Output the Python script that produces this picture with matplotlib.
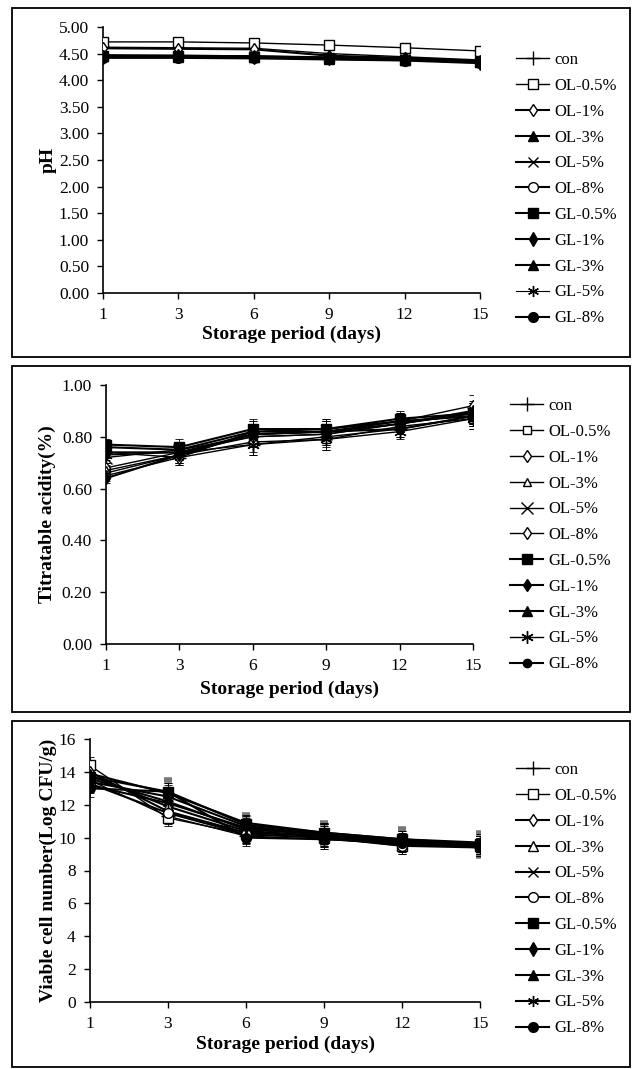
import matplotlib
matplotlib.use('Agg')

import matplotlib.pyplot as plt
from matplotlib.patches import Rectangle
import numpy as np

plt.rcParams['font.family'] = ['Liberation Serif', 'DejaVu Serif']

days = ['1', '3', '6', '9', '12', '15']
groups = ['con', 'OL-0.5%', 'OL-1%', 'OL-3%', 'OL-5%', 'OL-8%',
          'GL-0.5%', 'GL-1%', 'GL-3%', 'GL-5%', 'GL-8%']

# pH
ph = [
    [4.62, 4.61, 4.60, 4.50, 4.44, 4.38],
    [4.72, 4.72, 4.70, 4.66, 4.61, 4.55],
    [4.60, 4.59, 4.58, 4.46, 4.42, 4.36],
    [4.47, 4.46, 4.45, 4.43, 4.40, 4.36],
    [4.46, 4.46, 4.45, 4.42, 4.40, 4.35],
    [4.44, 4.44, 4.43, 4.41, 4.39, 4.34],
    [4.45, 4.45, 4.44, 4.42, 4.38, 4.35],
    [4.44, 4.45, 4.44, 4.41, 4.39, 4.33],
    [4.46, 4.44, 4.43, 4.40, 4.38, 4.34],
    [4.43, 4.44, 4.42, 4.40, 4.37, 4.33],
    [4.42, 4.42, 4.41, 4.39, 4.37, 4.32],
]
ph_err = [0.02, 0.02, 0.02, 0.02, 0.02, 0.02]

# titratable acidity (%)
ta = [
    [0.74, 0.72, 0.77, 0.80, 0.83, 0.88],
    [0.66, 0.73, 0.78, 0.79, 0.84, 0.87],
    [0.68, 0.74, 0.80, 0.81, 0.85, 0.89],
    [0.67, 0.73, 0.81, 0.82, 0.86, 0.88],
    [0.72, 0.75, 0.80, 0.81, 0.85, 0.89],
    [0.65, 0.72, 0.82, 0.82, 0.86, 0.92],
    [0.77, 0.76, 0.83, 0.83, 0.87, 0.89],
    [0.64, 0.73, 0.81, 0.82, 0.85, 0.90],
    [0.76, 0.75, 0.82, 0.83, 0.86, 0.88],
    [0.73, 0.74, 0.77, 0.79, 0.82, 0.87],
    [0.74, 0.74, 0.81, 0.82, 0.83, 0.88],
]
ta_err = [0.02, 0.03, 0.04, 0.04, 0.03, 0.04]

# viable cell number (Log CFU/g)
vc = [
    [13.5, 11.3, 10.1, 9.9, 9.6, 9.4],
    [14.4, 11.2, 10.2, 10.0, 9.5, 9.5],
    [14.0, 11.6, 10.3, 10.1, 9.6, 9.5],
    [13.8, 11.9, 10.4, 10.1, 9.7, 9.5],
    [13.6, 12.2, 10.5, 10.2, 9.7, 9.6],
    [13.3, 11.5, 10.2, 10.0, 9.5, 9.4],
    [13.7, 12.8, 10.8, 10.3, 9.9, 9.6],
    [13.4, 12.5, 10.7, 10.2, 9.8, 9.6],
    [13.9, 12.7, 10.9, 10.3, 9.9, 9.7],
    [13.2, 12.1, 10.6, 10.2, 9.8, 9.6],
    [13.0, 12.8, 10.0, 9.9, 9.7, 9.4],
]
vc_err = [0.5, 0.5, 0.5, 0.6, 0.5, 0.5]
vc_err_gray = [0.6, 0.7, 0.6, 0.6, 0.6, 0.7]

# marker style per group: (marker, filled, size, linewidth)
styles_ph = [('+', True, 10, 1.0), ('s', False, 7, 1.0), ('d', False, 6, 1.5),
             ('^', True, 7, 1.5), ('x', True, 7, 1.5), ('o', False, 7, 1.5),
             ('s', True, 7, 1.5), ('d', True, 7, 1.5), ('^', True, 7, 1.5),
             ((6, 2, 0), True, 8, 0.8), ('o', True, 7, 1.5)]
styles_ta = [('+', True, 10, 1.0), ('s', False, 6, 1.0), ('d', False, 6, 1.0),
             ('^', False, 6, 1.0), ('x', True, 8, 1.0), ('d', False, 6, 1.0),
             ('s', True, 7, 1.5), ('d', True, 6, 1.5), ('^', True, 7, 1.5),
             ((6, 2, 0), True, 9, 1.0), ('o', True, 6, 1.5)]
styles_vc = [('+', True, 10, 1.0), ('s', False, 7, 1.0), ('d', False, 6, 1.5),
             ('^', False, 7, 1.5), ('x', True, 7, 1.5), ('o', False, 7, 1.5),
             ('s', True, 7, 1.5), ('d', True, 7, 1.5), ('^', True, 7, 1.5),
             ((6, 2, 0), True, 8, 1.5), ('o', True, 7, 1.5)]

W, H = 632, 1069
fig = plt.figure(figsize=(W / 100, H / 100), dpi=100)


def px_axes(left, right, top, bottom):
    return fig.add_axes([left / W, 1 - bottom / H, (right - left) / W, (bottom - top) / H])


def draw_panel(ax, data, styles, err, ylim, yticks, fmt, ylabel, ylab_x, xlab_y,
               legend_pos, gray_err=None):
    x = np.arange(len(days))
    handles = []
    for i, (name, vals) in enumerate(zip(groups, data)):
        ax.errorbar(x, vals, yerr=err, fmt='none', ecolor='black', elinewidth=0.6,
                    capsize=3, capthick=0.6, zorder=2)
        if gray_err is not None and i == 6:
            ax.errorbar(x, vals, yerr=gray_err, fmt='none', ecolor='#777777',
                        elinewidth=1.0, capsize=3, capthick=4, zorder=1)
        m, filled, ms, lw = styles[i]
        line, = ax.plot(x, vals, color='black', lw=lw, marker=m, markersize=ms,
                        markerfacecolor='black' if filled else 'white',
                        markeredgecolor='black', markeredgewidth=1.0, label=name, zorder=3)
        handles.append(line)
    ax.set_xlim(0, len(days) - 1)
    ax.set_xticks(x)
    ax.set_xticklabels(days)
    ax.set_ylim(*ylim)
    ax.set_yticks(yticks)
    ax.set_yticklabels([fmt % v for v in yticks])
    for s in ['top', 'right']:
        ax.spines[s].set_visible(False)
    for s in ['left', 'bottom']:
        ax.spines[s].set_linewidth(1.2)
    ax.tick_params(axis='both', direction='out', length=4, width=1.0,
                   labelsize=12.5, pad=6)
    ax.set_xlabel('Storage period (days)', fontsize=14, fontweight='bold')
    ax.xaxis.set_label_coords(0.5, xlab_y)
    ax.set_ylabel(ylabel, fontsize=14, fontweight='bold')
    ax.yaxis.set_label_coords(ylab_x, 0.5)
    leg = fig.legend(handles=handles, loc='upper left',
                     bbox_to_anchor=(legend_pos[0] / W, 1 - legend_pos[1] / H),
                     frameon=False, fontsize=12, handlelength=2.0,
                     handletextpad=0.3, labelspacing=0.59, borderpad=0,
                     borderaxespad=0)
    return leg


ax1 = px_axes(103, 480, 27, 293)
draw_panel(ax1, ph, styles_ph, ph_err, (0, 5.0), np.arange(0, 5.01, 0.5), '%.2f',
           'pH', -0.123, -0.122, (516, 52))

ax2 = px_axes(106, 473, 385, 644)
draw_panel(ax2, ta, styles_ta, ta_err, (0, 1.0), np.arange(0, 1.01, 0.2), '%.2f',
           'Titratable acidity(%)', -0.137, -0.142, (510, 398))

ax3 = px_axes(89.5, 480.5, 739, 1002)
draw_panel(ax3, vc, styles_vc, vc_err, (0, 16), np.arange(0, 17, 2), '%d',
           'Viable cell number(Log CFU/g)', -0.083, -0.128, (516, 762),
           gray_err=vc_err_gray)

# panel frames
for top, bottom in [(8, 357), (366, 712), (721, 1067)]:
    fig.patches.append(Rectangle((12 / W, 1 - bottom / H), (630 - 12) / W, (bottom - top) / H,
                                 transform=fig.transFigure, fill=False,
                                 edgecolor='black', linewidth=1.3))

fig.savefig('out.png', dpi=100)
